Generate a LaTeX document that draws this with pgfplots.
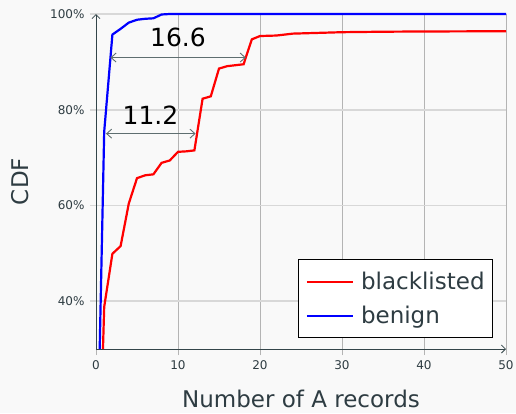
\documentclass[border=0pt]{standalone}
\usepackage{fontspec}
\setmainfont{DejaVu Sans}
\usepackage{pgfplots}
\pgfplotsset{compat=1.18}
\usetikzlibrary{arrows.meta}
\definecolor{bgcol}{HTML}{F9F9F9}
\definecolor{txtcol}{HTML}{2E3C42}
\definecolor{axcol}{HTML}{34454A}
\definecolor{vgrid}{HTML}{B4B4B4}
\definecolor{hgrid}{HTML}{D8D8D8}
\definecolor{anncol}{HTML}{5E6E70}
\begin{document}
\begin{tikzpicture}
\path[use as bounding box, fill=bgcol] (-96pt,-64pt) rectangle (420pt,349pt);
\begin{axis}[
  name=ax,
  at={(0pt,0pt)}, anchor=south west,
  scale only axis,
  width=410pt, height=335pt,
  xmin=0, xmax=50, ymin=30, ymax=100,
  clip=false,
  axis lines=left,
  axis line style={axcol, line width=0.8pt, -{Straight Barb[length=4pt,width=8pt]}},
  xtick={0,10,20,30,40,50},
  ytick={40,60,80,100},
  yticklabels={40\%,60\%,80\%,100\%},
  /pgf/number format/assume math mode=true,
  tick align=outside,
  major tick length=6pt,
  xtick style={vgrid, line width=0.8pt},
  ytick style={hgrid, line width=1.6pt},
  xmajorgrids, ymajorgrids,
  x grid style={vgrid, line width=0.8pt},
  y grid style={hgrid, line width=1.6pt},
  ticklabel style={font=\fontsize{12}{14}\selectfont, text=txtcol},
  xticklabel style={yshift=-2pt},
  yticklabel style={xshift=-2pt},
  xlabel={Number of A records},
  ylabel={CDF},
  label style={font=\fontsize{23}{27}\selectfont, text=txtcol, inner sep=0pt},
  xlabel style={at={(axis description cs:0.5,0)}, anchor=center, yshift=-50pt},
  ylabel style={at={(axis description cs:0,0.5)}, anchor=center, yshift=76pt},
  legend cell align=left,
  legend style={font=\fontsize{23}{27}\selectfont, text=txtcol, draw=black, line width=0.8pt, fill=white,
    at={(1,0)}, anchor=south east, xshift=-13pt, yshift=11pt,
    inner xsep=6pt, inner ysep=10.5pt, row sep=11pt},
  legend image code/.code={\draw[#1] (1pt,0pt) -- (47pt,0pt); \path (0pt,0pt) (52pt,0pt);},
]
\addplot[red, line width=2.2pt] coordinates {
 (0.85,30) (1,38.8) (2,49.9) (3,51.5) (4,60.4) (5,65.7) (6,66.3) (7,66.5) (8,68.9) (9,69.4)
 (10,71.2) (11,71.3) (12,71.5) (13,82.3) (14,82.8) (15,88.6) (16,89.1) (17,89.3) (18,89.5)
 (19,94.7) (20,95.4) (22,95.5) (24,95.9) (26,96.0) (28,96.1) (30,96.2) (35,96.3) (40,96.35) (50,96.4)
};
\addlegendentry{blacklisted\hspace{7pt}}
\addplot[blue, line width=2.2pt] coordinates {
 (0.45,30) (1,75.4) (2,95.7) (3,96.9) (4,98.2) (5,98.8) (6,99.0) (7,99.1) (8,99.9) (9,100) (50,100)
};
\addlegendentry{benign}
\draw[anncol, line width=0.9pt, {Straight Barb[length=5pt,width=9pt]}-{Straight Barb[length=5pt,width=9pt]}]
  (axis cs:1.76,90.9) -- (axis cs:18.27,90.9);
\draw[anncol, line width=0.9pt, {Straight Barb[length=5pt,width=9pt]}-{Straight Barb[length=5pt,width=9pt]}]
  (axis cs:1.22,75.0) -- (axis cs:12.15,75.0);
\node[font=\fontsize{25}{30}\selectfont, text=black, anchor=center] at (axis cs:10,95.08) {16.6};
\node[font=\fontsize{25}{30}\selectfont, text=black, anchor=center] at (axis cs:6.65,78.85) {11.2};
\end{axis}
\end{tikzpicture}
\end{document}
